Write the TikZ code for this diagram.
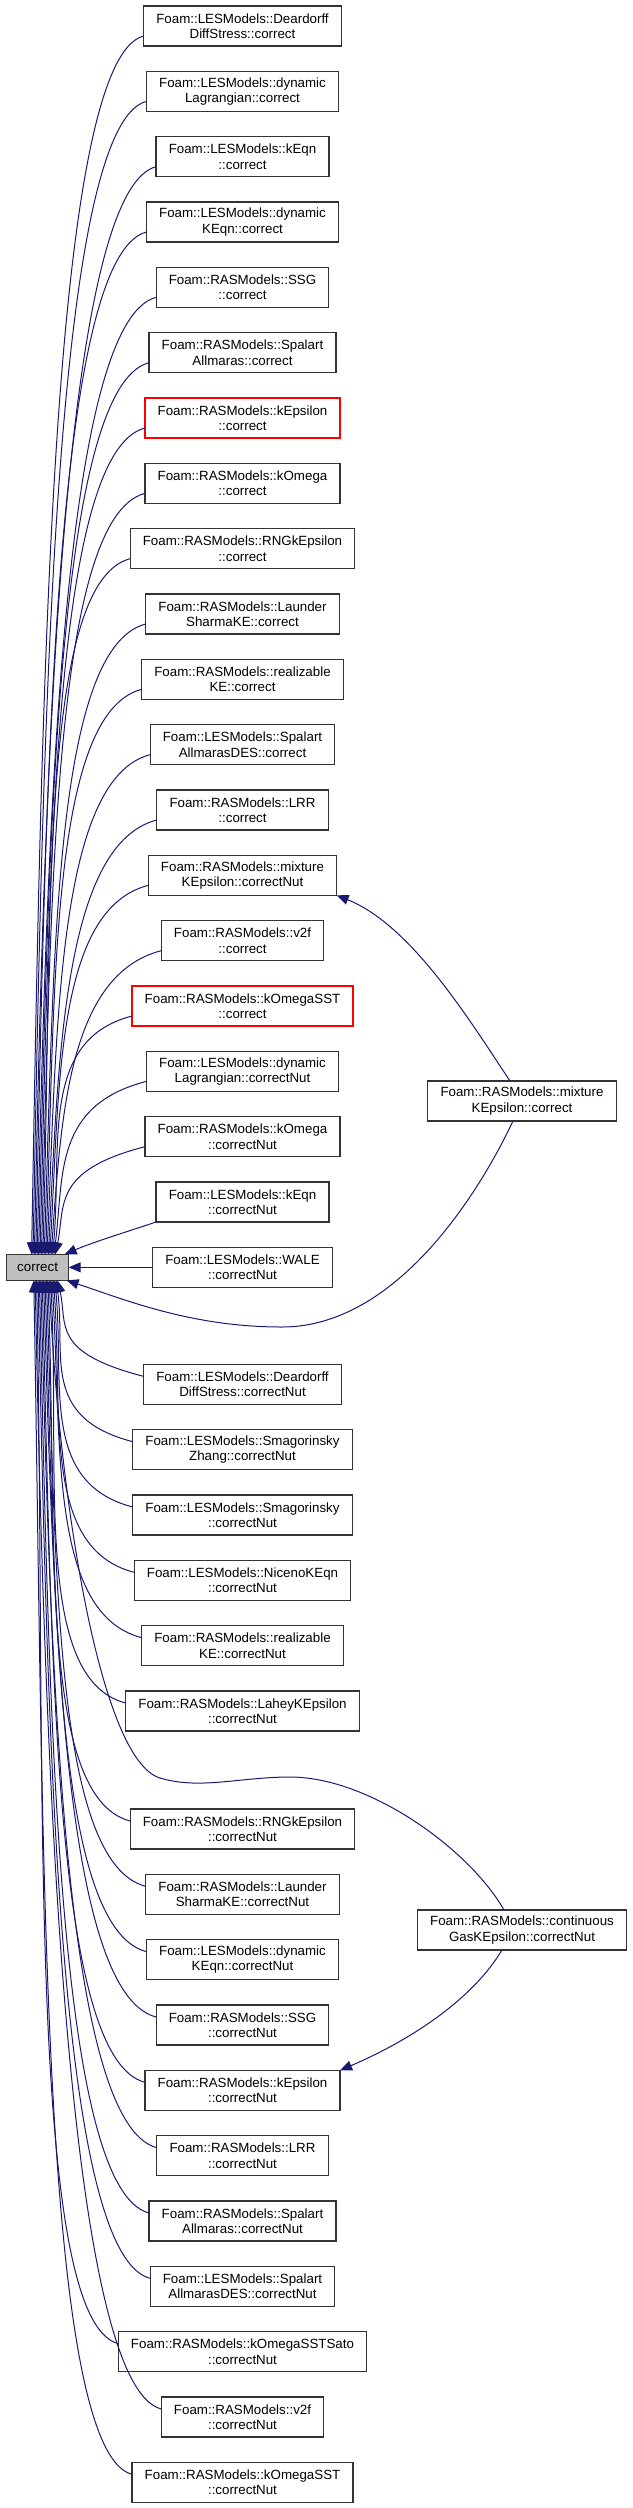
\documentclass[tikz,border=0pt]{standalone}
\usepackage{fontspec}
\setmainfont{Liberation Sans}
\usepackage{tikz}
\usetikzlibrary{arrows.meta, positioning, calc}

\definecolor{edgeblue}{RGB}{25,25,112}
\definecolor{mainfill}{RGB}{191,191,191}

\begin{document}
\begin{tikzpicture}[x=0.75pt, y=-0.75pt, node distance=19pt, >={Triangle[length=9pt, width=7.5pt]},
    fn/.style={rectangle, draw=black!80, line width=0.9pt, fill=white, align=center, minimum height=30pt,
      inner xsep=9.5pt, inner ysep=2pt, outer sep=0pt, font=\fontsize{10}{11.5}\selectfont},
    fnred/.style={fn, draw=red},
    focus/.style={fn, fill=mainfill, minimum height=19.5pt, inner xsep=8pt},
    call/.style={->, draw=edgeblue, line width=0.75pt}]
  \useasboundingbox (0,0) rectangle (632,2508);

  % Callers, upper part
  \node[fn] (n01) at (242.5,26) {Foam::LESModels::Deardorff\\DiffStress::correct};
  \node[fn, below=of n01] (n02) {Foam::LESModels::dynamic\\Lagrangian::correct};
  \node[fn, below=of n02] (n03) {Foam::LESModels::kEqn\\::correct};
  \node[fn, below=of n03] (n04) {Foam::LESModels::dynamic\\KEqn::correct};
  \node[fn, below=of n04] (n05) {Foam::RASModels::SSG\\::correct};
  \node[fn, below=of n05] (n06) {Foam::RASModels::Spalart\\Allmaras::correct};
  \node[fnred, below=of n06] (n07) {Foam::RASModels::kEpsilon\\::correct};
  \node[fn, below=of n07] (n08) {Foam::RASModels::kOmega\\::correct};
  \node[fn, below=of n08] (n09) {Foam::RASModels::RNGkEpsilon\\::correct};
  \node[fn, below=of n09] (n10) {Foam::RASModels::Launder\\SharmaKE::correct};
  \node[fn, below=of n10] (n11) {Foam::RASModels::realizable\\KE::correct};
  \node[fn, below=of n11] (n12) {Foam::LESModels::Spalart\\AllmarasDES::correct};
  \node[fn, below=of n12] (n13) {Foam::RASModels::LRR\\::correct};
  \node[fn, below=of n13] (n14) {Foam::RASModels::mixture\\KEpsilon::correctNut};
  \node[fn, below=of n14] (n15) {Foam::RASModels::v2f\\::correct};
  \node[fnred, below=of n15] (n16) {Foam::RASModels::kOmegaSST\\::correct};
  \node[fn, below=of n16] (n17) {Foam::LESModels::dynamic\\Lagrangian::correctNut};
  \node[fn, below=of n17] (n18) {Foam::RASModels::kOmega\\::correctNut};
  \node[fn, below=of n18] (n19) {Foam::LESModels::kEqn\\::correctNut};
  \node[fn, below=of n19] (n20) {Foam::LESModels::WALE\\::correctNut};

  % Callers, lower part
  \node[fn, below=57.75pt of n20] (n21) {Foam::LESModels::Deardorff\\DiffStress::correctNut};
  \node[fn, below=of n21] (n22) {Foam::LESModels::Smagorinsky\\Zhang::correctNut};
  \node[fn, below=of n22] (n23) {Foam::LESModels::Smagorinsky\\::correctNut};
  \node[fn, below=of n23] (n24) {Foam::LESModels::NicenoKEqn\\::correctNut};
  \node[fn, below=of n24] (n25) {Foam::RASModels::realizable\\KE::correctNut};
  \node[fn, below=of n25] (n26) {Foam::RASModels::LaheyKEpsilon\\::correctNut};
  \node[fn, below=58.5pt of n26] (n27) {Foam::RASModels::RNGkEpsilon\\::correctNut};
  \node[fn, below=of n27] (n28) {Foam::RASModels::Launder\\SharmaKE::correctNut};
  \node[fn, below=of n28] (n29) {Foam::LESModels::dynamic\\KEqn::correctNut};
  \node[fn, below=of n29] (n30) {Foam::RASModels::SSG\\::correctNut};
  \node[fn, below=of n30] (n31) {Foam::RASModels::kEpsilon\\::correctNut};
  \node[fn, below=of n31] (n32) {Foam::RASModels::LRR\\::correctNut};
  \node[fn, below=of n32] (n33) {Foam::RASModels::Spalart\\Allmaras::correctNut};
  \node[fn, below=of n33] (n34) {Foam::LESModels::Spalart\\AllmarasDES::correctNut};
  \node[fn, below=of n34] (n35) {Foam::RASModels::kOmegaSSTSato\\::correctNut};
  \node[fn, below=of n35] (n36) {Foam::RASModels::v2f\\::correctNut};
  \node[fn, below=of n36] (n37) {Foam::RASModels::kOmegaSST\\::correctNut};

  % The function itself and the two outer callers
  \node[focus, left=63pt of n20] (correct) {correct};
  \node[fn] (mixcorr) at (522,1101) {Foam::RASModels::mixture\\KEpsilon::correct};
  \node[fn] (contnut) at (522,1930) {Foam::RASModels::continuous\\GasKEpsilon::correctNut};

  % Edges into the top of correct
  \foreach \src/\tip/\drop in {n01/25/554, n02/26.4/524, n03/27.8/495, n04/29.2/465, n05/30.6/435,
      n06/32/406, n07/33.4/376, n08/34.8/346, n09/36.2/316, n10/37.6/287, n11/39/257, n12/40.4/227,
      n13/41.8/198, n14/43.2/168, n15/44.6/138, n16/46/108, n17/47.4/79, n18/48.8/49}
    \draw[call] ($(\src.west)+(0,10)$) .. controls +(-93,24) and +(10,-\drop) .. ($(correct.north west)+(\tip,0)$);
  \draw[call] (n19.south west) .. controls +(-30,10) and +(28,-12) .. ($(correct.north east)+(-4,0)$);
  \draw[call] (n20) -- (correct);

  % Edges into the bottom of correct
  \foreach \src/\tip/\drop in {n21/51/44, n22/49.6/74, n23/48.2/103, n24/46.8/133, n25/45.4/163,
      n26/44/192, n27/41.2/246, n28/39.8/276, n29/38.4/306, n30/37/335, n31/35.6/365, n32/34.2/395,
      n33/32.8/425, n34/31.4/454, n35/30/484, n36/28.6/514, n37/27.2/543}
    \draw[call] ($(\src.west)+(0,-8)$) .. controls +(-93,-24) and +(10,\drop) .. ($(correct.south west)+(\tip,0)$);

  % Outer callers
  \draw[call] ($(mixcorr.north)+(-12,0)$) .. controls +(-40,-60) and +(75,30) .. (n14.south east);
  \draw[call] ($(mixcorr.south)+(-9,0)$) .. controls +(-33,70) and +(115,0) .. (282,1327)
    .. controls +(-90,0) and +(60,20) .. ($(correct.south east)+(-2,0)$);
  \draw[call] ($(contnut.south)+(-20,0)$) .. controls +(-30,50) and +(70,-30) .. (n31.north east);
  \draw[call] ($(contnut.north)+(-18,0)$) .. controls +(-34,-60) and +(80,0) .. (290,1777)
    .. controls +(-50,0) and +(40,12) .. (160,1778)
    .. controls +(-60,-18) and +(10,220) .. ($(correct.south west)+(42.6,0)$);
\end{tikzpicture}
\end{document}
